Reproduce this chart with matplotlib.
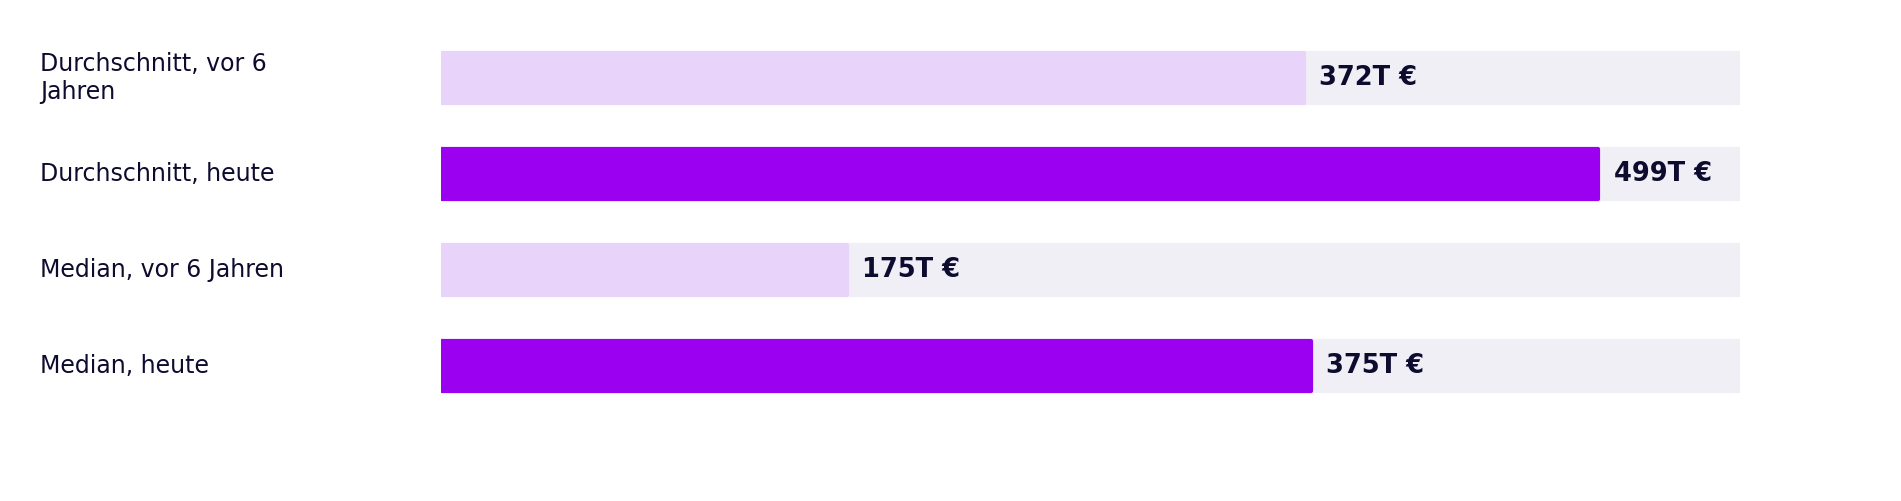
import numpy as np
import matplotlib.pyplot as plt
import matplotlib.transforms as mtransforms

# data
labels = ['Durchschnitt, vor 6\nJahren', 'Durchschnitt, heute', 'Median, vor 6 Jahren', 'Median, heute']
values = [372, 499, 175, 375]
value_text = ['372T €', '499T €', '175T €', '375T €']
is_today = [False, True, False, True]
x_max = 560

c_today = '#9b00f0'
c_past = '#e8d3fa'
c_track = '#f0eff6'
c_text = '#0d0b2e'

fig = plt.figure(figsize=(19.01, 5.01), dpi=100)
ax = fig.add_axes([0.232, 0.1737, 0.6833, 0.767])

y = np.arange(len(values))
h = 0.52

# background tracks
ax.barh(y, [x_max] * len(values), height=h, color=c_track, edgecolor=c_track,
        linewidth=3, joinstyle='round')
cols = [c_today if t else c_past for t in is_today]
ax.barh(y, values, height=h, color=cols, edgecolor=cols, linewidth=3, joinstyle='round')

for yi, v, txt in zip(y, values, value_text):
    ax.annotate(txt, (v, yi), xytext=(11, 0), textcoords='offset points',
                va='center', ha='left', fontsize=18.5, fontweight='bold', color=c_text)

# category labels pinned to the left edge of the figure
trans = mtransforms.blended_transform_factory(fig.transFigure, ax.transData)
for yi, lab in zip(y, labels):
    ax.text(40 / 1901, yi, lab, transform=trans, va='center', ha='left',
            fontsize=17, color=c_text, linespacing=1.2)

ax.set_xlim(0, x_max)
ax.set_ylim(len(values) - 0.5, -0.5)
ax.axis('off')

fig.savefig('out.png', dpi=100, facecolor='white')
